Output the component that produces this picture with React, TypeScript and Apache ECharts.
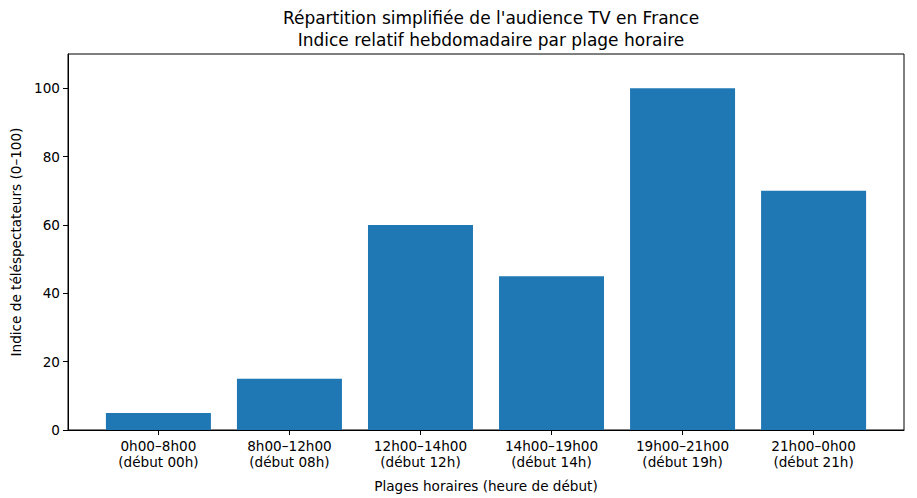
import React, { useEffect, useRef } from "react";
import * as echarts from "echarts";

const categories = [
  "0h00–8h00\n(début 00h)",
  "8h00–12h00\n(début 08h)",
  "12h00–14h00\n(début 12h)",
  "14h00–19h00\n(début 14h)",
  "19h00–21h00\n(début 19h)",
  "21h00–0h00\n(début 21h)",
];
const values = [5, 15, 60, 45, 100, 70];
const yTicks = [0, 20, 40, 60, 80, 100];

const FONT = "DejaVu Sans";

export default function App() {
  const ref = useRef<HTMLDivElement>(null);
  useEffect(() => {
    const chart = echarts.init(ref.current!, null, { renderer: "svg" });
    const positions = categories.map((_, i) => i);
    chart.setOption({
      animation: false,
      backgroundColor: "#fff",
      textStyle: { fontFamily: FONT, color: "#000" },
      title: {
        text: "Répartition simplifiée de l'audience TV en France\nIndice relatif hebdomadaire par plage horaire",
        left: 486,
        textAlign: "center",
        top: 2,
        textStyle: {
          fontFamily: FONT,
          fontSize: 17,
          fontWeight: "normal",
          color: "#000",
          lineHeight: 22,
        },
      },
      grid: {
        left: 68,
        right: 13,
        top: 54,
        bottom: 66,
        show: true,
        borderColor: "#000",
        borderWidth: 1,
        backgroundColor: "transparent",
      },
      xAxis: {
        type: "value",
        min: -0.69,
        max: 5.69,
        name: "Plages horaires (heure de début)",
        nameLocation: "middle",
        nameGap: 49,
        nameTextStyle: { fontFamily: FONT, fontSize: 13.6, color: "#000" },
        splitLine: { show: false },
        axisLine: { show: true, onZero: false, lineStyle: { color: "#000", width: 1 } },
        axisTick: {
          show: true,
          length: 5,
          lineStyle: { color: "#000" },
          customValues: positions,
        },
        axisLabel: {
          fontFamily: FONT,
          fontSize: 13.6,
          color: "#000",
          lineHeight: 16,
          margin: 8,
          customValues: positions,
          formatter: (v: number) => categories[Math.round(v)] ?? "",
        },
      },
      yAxis: {
        type: "value",
        min: 0,
        max: 110,
        name: "Indice de téléspectateurs (0–100)",
        nameLocation: "middle",
        nameGap: 43,
        nameRotate: 90,
        nameTextStyle: { fontFamily: FONT, fontSize: 13.6, color: "#000" },
        splitLine: { show: false },
        axisLine: { show: true, onZero: false, lineStyle: { color: "#000", width: 1 } },
        axisTick: {
          show: true,
          length: 5,
          lineStyle: { color: "#000" },
          customValues: yTicks,
        },
        axisLabel: {
          fontFamily: FONT,
          fontSize: 13.6,
          color: "#000",
          margin: 8,
          customValues: yTicks,
        },
      },
      series: [
        {
          type: "bar",
          data: values.map((v, i) => [i, v]),
          barWidth: 105,
          itemStyle: { color: "#1f77b4" },
        },
      ],
    });
    return () => chart.dispose();
  }, []);
  return (
    <div
      ref={ref}
      style={{ position: "fixed", left: 0, top: 0, width: 917, height: 498 }}
    />
  );
}
